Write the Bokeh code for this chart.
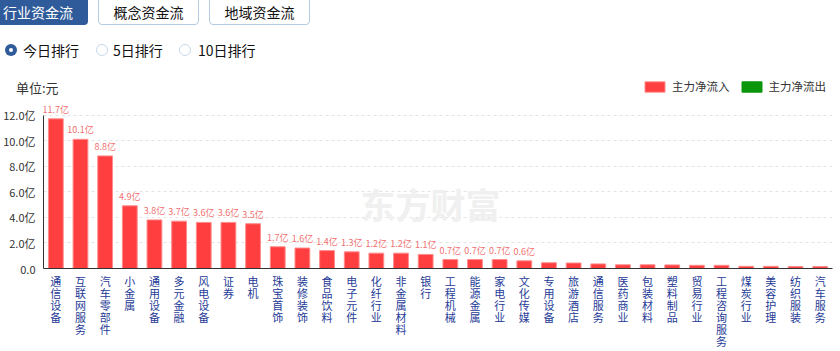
from bokeh.plotting import figure
from bokeh.models import (FixedTicker, ColumnDataSource, Legend, LegendItem, Div, Label)
from bokeh.core.properties import value
from bokeh.layouts import column
from bokeh.embed import file_html
from bokeh.resources import INLINE

# ---------------- data ----------------
categories = ["通信设备", "互联网服务", "汽车零部件", "小金属", "通用设备", "多元金融", "风电设备",
              "证券", "电机", "珠宝首饰", "装修装饰", "食品饮料", "电子元件", "化纤行业", "非金属材料",
              "银行", "工程机械", "能源金属", "家电行业", "文化传媒", "专用设备", "旅游酒店",
              "通信服务", "医药商业", "包装材料", "塑料制品", "贸易行业", "工程咨询服务", "煤炭行业",
              "美容护理", "纺织服装", "汽车服务"]
inflow = [11.7, 10.1, 8.8, 4.9, 3.8, 3.7, 3.6, 3.6, 3.5, 1.7, 1.6, 1.4, 1.3, 1.2, 1.2,
          1.1, 0.7, 0.7, 0.7, 0.6, 0.45, 0.43, 0.36, 0.29, 0.29, 0.28, 0.25, 0.25, 0.17,
          0.17, 0.15, 0.15]
outflow = [float("nan")]   # no net-outflow bars in this view
value_labels = ["11.7亿", "10.1亿", "8.8亿", "4.9亿", "3.8亿", "3.7亿", "3.6亿", "3.6亿", "3.5亿",
                "1.7亿", "1.6亿", "1.4亿", "1.3亿", "1.2亿", "1.2亿", "1.1亿", "0.7亿", "0.7亿",
                "0.7亿", "0.6亿", "", "", "", "", "", "", "", "", "", "", "", ""]
y_ticks = [0, 2, 4, 6, 8, 10, 12]
y_tick_labels = ["0.0", "2.0亿", "4.0亿", "6.0亿", "8.0亿", "10.0亿", "12.0亿"]
tabs = ["行业资金流", "概念资金流", "地域资金流"]
radios = ["今日排行", "5日排行", "10日排行"]
unit_text = "单位:元"
series_names = ["主力净流入", "主力净流出"]

FONT = "Noto Sans CJK SC"

# ---------------- header (HTML) ----------------
header_html = f"""
<div style="position:relative;width:840px;height:100px;font-family:'{FONT}',sans-serif;">
  <div style="position:absolute;left:0;top:0;width:88px;height:25px;background:#2f5b9a;border-radius:0 0 4px 0;"></div>
  <div style="position:absolute;left:3px;top:0;height:25px;line-height:25px;font-size:14px;color:#ffffff;">{tabs[0]}</div>
  <div style="position:absolute;left:98px;top:-3px;width:101px;height:28px;border:1px solid #b3cbe3;border-radius:4px;box-sizing:border-box;"></div>
  <div style="position:absolute;left:98px;top:0;width:101px;height:25px;line-height:25px;font-size:14px;color:#111;text-align:center;">{tabs[1]}</div>
  <div style="position:absolute;left:209px;top:-3px;width:101px;height:28px;border:1px solid #b3cbe3;border-radius:4px;box-sizing:border-box;"></div>
  <div style="position:absolute;left:209px;top:0;width:101px;height:25px;line-height:25px;font-size:14px;color:#111;text-align:center;">{tabs[2]}</div>

  <div style="position:absolute;left:5px;top:44px;width:12px;height:12px;border-radius:50%;background:#2f5b9a;"></div>
  <div style="position:absolute;left:9px;top:48px;width:4px;height:4px;border-radius:50%;background:#ffffff;"></div>
  <div style="position:absolute;left:23px;top:40px;height:20px;line-height:20px;font-size:14px;color:#111;">{radios[0]}</div>

  <div style="position:absolute;left:96px;top:44px;width:12px;height:12px;border-radius:50%;border:1px solid #c8d8e8;box-sizing:border-box;"></div>
  <div style="position:absolute;left:113px;top:40px;height:20px;line-height:20px;font-size:14px;color:#111;">{radios[1]}</div>

  <div style="position:absolute;left:179px;top:44px;width:12px;height:12px;border-radius:50%;border:1px solid #c8d8e8;box-sizing:border-box;"></div>
  <div style="position:absolute;left:198px;top:40px;height:20px;line-height:20px;font-size:14px;color:#111;">{radios[2]}</div>

  <div style="position:absolute;left:16px;top:79px;height:18px;line-height:18px;font-size:13px;color:#333;">{unit_text}</div>
</div>
"""
header = Div(text=header_html, width=840, height=100, margin=(0, 0, -35, 0))

# ---------------- chart ----------------
n = len(categories)
xs = list(range(n))
src = ColumnDataSource(dict(x=xs, top=inflow, lab=value_labels))

p = figure(width=840, height=286, output_backend="svg", toolbar_location=None,
           x_range=(-0.5, n - 0.5), y_range=(0, 15.01),
           min_border_left=42, min_border_right=8, min_border_top=11, min_border_bottom=80,
           outline_line_color=None, background_fill_alpha=0, border_fill_alpha=0,
           margin=(0, 0, 0, 0))

# watermark
wm = Label(x=15.2, y=5.05, text="东方财富", text_font=FONT, text_font_size="35px",
           text_font_style="bold", text_color="#f0f0f0", text_align="center",
           text_baseline="middle", level="underlay")
p.add_layout(wm)

bars = p.vbar(x="x", top="top", width=0.6, source=src, fill_color="#ff3f3f",
              line_color="#ff8c8c", line_width=1)
out_src = ColumnDataSource(dict(x=[0], top=outflow))
outbars = p.vbar(x="x", top="top", width=0.6, source=out_src, fill_color="#0a960a",
                 line_color="#0a960a")

p.text(x="x", y="top", text="lab", source=src, text_align="center", text_baseline="bottom",
       y_offset=-3, text_font_size="9px", text_color="#f07070", text_font=value(FONT))

# axes
p.xaxis.ticker = FixedTicker(ticks=xs)
p.xaxis.major_label_overrides = {i: "\n".join(c) for i, c in enumerate(categories)}
p.xaxis.major_label_text_font = FONT
p.xaxis.major_label_text_font_size = "11px"
p.xaxis.major_label_text_color = "#1e3a96"
p.xaxis.major_label_text_line_height = 0.75
p.xaxis.major_label_standoff = 4
p.xaxis.major_tick_out = 0
p.xaxis.major_tick_in = 0
p.xaxis.minor_tick_out = 0
p.xaxis.major_tick_line_color = None
p.xaxis.minor_tick_line_color = None
p.xaxis.axis_line_color = "#333333"

p.yaxis.ticker = FixedTicker(ticks=y_ticks)
p.yaxis.major_label_overrides = {t: l for t, l in zip(y_ticks, y_tick_labels)}
p.yaxis.major_label_text_font = FONT
p.yaxis.major_label_text_font_size = "11px"
p.yaxis.major_label_text_color = "#333333"
p.yaxis.major_tick_out = 0
p.yaxis.major_tick_in = 0
p.yaxis.minor_tick_out = 0
p.yaxis.major_tick_line_color = None
p.yaxis.minor_tick_line_color = None
p.yaxis.major_label_standoff = 8
p.yaxis.axis_line_color = "#333333"
p.yaxis.bounds = (0, 12)

p.xgrid.grid_line_color = None
p.ygrid.grid_line_color = "#e3e3e3"
p.ygrid.grid_line_dash = "3 3"

legend = Legend(items=[LegendItem(label=series_names[0], renderers=[bars]),
                       LegendItem(label=series_names[1], renderers=[outbars])],
                orientation="horizontal", location=(599, 174),
                glyph_width=25, glyph_height=13, label_standoff=5, spacing=9,
                label_text_font=FONT, label_text_font_size="11.5px", label_text_color="#333333",
                background_fill_alpha=0, border_line_color=None, padding=0, margin=0)
p.add_layout(legend, "center")

layout = column(header, p, spacing=0, margin=(0, 0, 0, 0))

open("out.html", "w").write(file_html(layout, INLINE))
